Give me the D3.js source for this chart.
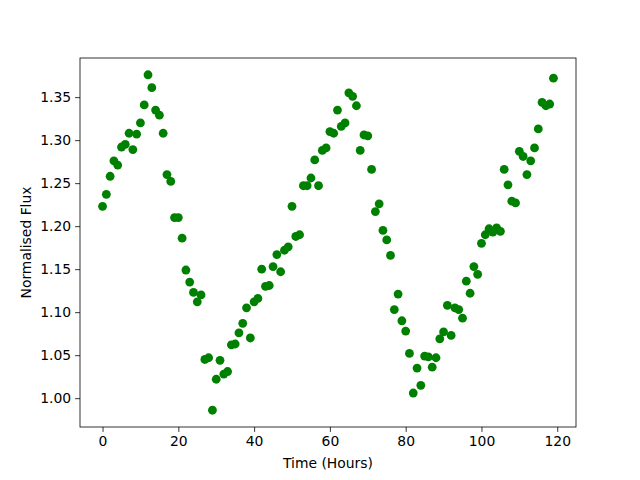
<!DOCTYPE html>
<html>
<head>
<meta charset="utf-8">
<script src="https://cdn.jsdelivr.net/npm/d3@7"></script>
<style>
  html, body { margin: 0; padding: 0; background: #fff; }
  svg { display: block; font-family: "DejaVu Sans", sans-serif; }
</style>
</head>
<body>
<div id="chart"></div>
<script>
// hourly samples
const hours = d3.range(0, 120);
const flux = [
  1.223, 1.237, 1.258, 1.276, 1.271, 1.292, 1.295, 1.308, 1.289, 1.307,
  1.320, 1.341, 1.376, 1.361, 1.335, 1.329, 1.308, 1.260, 1.252, 1.210,
  1.210, 1.186, 1.149, 1.135, 1.123, 1.112, 1.120, 1.045, 1.047, 0.986,
  1.022, 1.044, 1.028, 1.031, 1.062, 1.063, 1.076, 1.087, 1.105, 1.070,
  1.112, 1.116, 1.150, 1.130, 1.131, 1.153, 1.167, 1.147, 1.172, 1.176,
  1.223, 1.188, 1.190, 1.247, 1.247, 1.256, 1.277, 1.247, 1.288, 1.291,
  1.310, 1.308, 1.335, 1.316, 1.320, 1.355, 1.351, 1.340, 1.288, 1.306,
  1.305, 1.266, 1.217, 1.226, 1.195, 1.184, 1.166, 1.103, 1.121, 1.090,
  1.078, 1.052, 1.006, 1.035, 1.015, 1.049, 1.048, 1.036, 1.047, 1.069,
  1.077, 1.108, 1.073, 1.105, 1.103, 1.093, 1.136, 1.122, 1.153, 1.144,
  1.180, 1.190, 1.197, 1.193, 1.198, 1.194, 1.266, 1.248, 1.229, 1.227,
  1.287, 1.281, 1.260, 1.276, 1.291, 1.313, 1.344, 1.340, 1.342, 1.372
];
const xTicks = [0, 20, 40, 60, 80, 100, 120];
const yTicks = [1.00, 1.05, 1.10, 1.15, 1.20, 1.25, 1.30, 1.35];

const width = 640, height = 480;
const margin = { top: 58, right: 64, bottom: 53, left: 80 };
const innerWidth = width - margin.left - margin.right;
const innerHeight = height - margin.top - margin.bottom;

const svg = d3.select('#chart').append('svg')
  .attr('width', width)
  .attr('height', height);

const g = svg.append('g')
  .attr('transform', `translate(${margin.left},${margin.top})`);

// matplotlib style 5% padding around the data
const xPad = (119 - 0) * 0.05;
const x = d3.scaleLinear().domain([0 - xPad, 119 + xPad]).range([0, innerWidth]);
const yMin = d3.min(flux), yMax = d3.max(flux);
const yPad = (yMax - yMin) * 0.05;
const y = d3.scaleLinear().domain([yMin - yPad, yMax + yPad]).range([innerHeight, 0]);

g.selectAll('.pt')
  .data(hours)
  .enter().append('circle')
  .attr('class', 'pt')
  .attr('cx', d => x(d))
  .attr('cy', (d, i) => y(flux[i]))
  .attr('r', 4.4)
  .attr('fill', '#008000');

// axes
const xAxis = g.append('g')
  .attr('transform', `translate(0,${innerHeight})`)
  .call(d3.axisBottom(x).tickValues(xTicks).tickSize(4.9).tickPadding(4).tickFormat(d3.format('d')));
const yAxis = g.append('g')
  .call(d3.axisLeft(y).tickValues(yTicks).tickSize(4.9).tickPadding(4).tickFormat(d3.format('.2f')));

[xAxis, yAxis].forEach(a => {
  a.select('.domain').remove();
  a.selectAll('text').style('font-size', '13.9px').style('fill', '#000')
    .style('font-family', '"DejaVu Sans", sans-serif');
  a.selectAll('line').style('stroke', '#000').style('stroke-width', '0.8px');
});

// frame
g.append('rect')
  .attr('width', innerWidth)
  .attr('height', innerHeight)
  .attr('fill', 'none')
  .attr('stroke', '#000')
  .attr('stroke-width', 0.8);

svg.append('text')
  .attr('x', margin.left + innerWidth / 2)
  .attr('y', 468)
  .attr('text-anchor', 'middle')
  .style('font-size', '13.9px')
  .text('Time (Hours)');

svg.append('text')
  .attr('transform', `translate(31,${margin.top + innerHeight / 2}) rotate(-90)`)
  .attr('text-anchor', 'middle')
  .style('font-size', '13.9px')
  .text('Normalised Flux');
</script>
</body>
</html>
